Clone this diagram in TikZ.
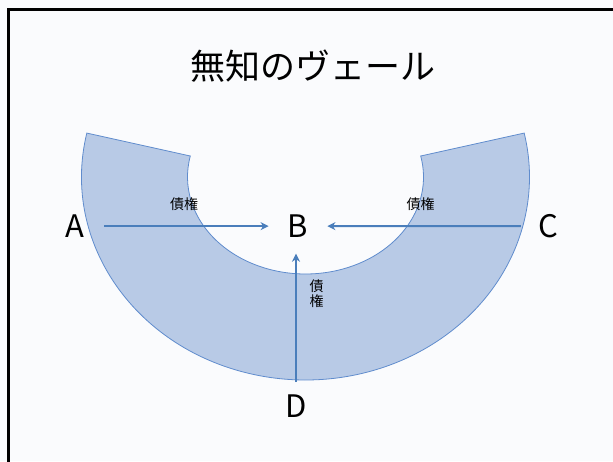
\documentclass[tikz,border=0pt]{standalone}
\usepackage{fontspec}
\setmainfont{Noto Sans CJK JP}
\usetikzlibrary{calc,arrows.meta}
\definecolor{bgc}{RGB}{250,251,253}
\definecolor{veilfill}{RGB}{184,202,230}
\definecolor{veilline}{RGB}{96,140,205}
\definecolor{arrc}{RGB}{74,126,187}
\tikzset{
  letter/.style={font=\fontsize{31}{31}\selectfont, inner sep=0pt, anchor=base},
  debt/.style={font=\fontsize{14}{15}\selectfont, inner sep=0pt, align=center},
  arr/.style={draw=arrc, line width=1.8pt, -{Stealth[length=8pt,width=8pt,inset=2.5pt]}},
  veil/.style={fill=veilfill, draw=veilline, line width=0.8pt},
}
\begin{document}
\begin{tikzpicture}[x=1pt,y=-1pt]
\fill[bgc] (0,0) rectangle (613,461);
\useasboundingbox (0,0) rectangle (613,461);
\draw[line width=3pt, line cap=rect] (613,9.5) -- (8.5,9.5) -- (8.5,461);
\coordinate (ctr) at (305.5,177);
\draw[veil] ($(ctr)+(167.5:224pt and 203pt)$) arc[start angle=167.5, end angle=372.5, x radius=224pt, y radius=203pt]
  -- ($(ctr)+(12.5:118pt and 97pt)$) arc[start angle=12.5, end angle=-192.5, x radius=118pt, y radius=97pt] -- cycle;
\node[font=\fontsize{35}{35}\selectfont, inner sep=0pt] (title) at (313,66) {無知のヴェール};
\node[letter] (A) at (74.7,237.5) {A};
\node[letter] (B) at (298,237.5) {B};
\node[letter] (C) at (548,237.5) {C};
\node[letter] (D) at (296,417) {D};
\draw[arr, shorten <=20pt, shorten >=19pt] (A.east) -- (B.west);
\draw[arr, shorten <=17pt, shorten >=19pt] (C.west) -- (B.east);
\draw[arr, shorten <=12pt, shorten >=16pt] (D.north) -- (D.north |- B.south);
\node[debt] (l1) at (184,204.5) {債権};
\node[debt] (l2) at (420.5,204.5) {債権};
\node[debt] (l3) at (316.7,294) {債\\権};
\end{tikzpicture}
\end{document}
